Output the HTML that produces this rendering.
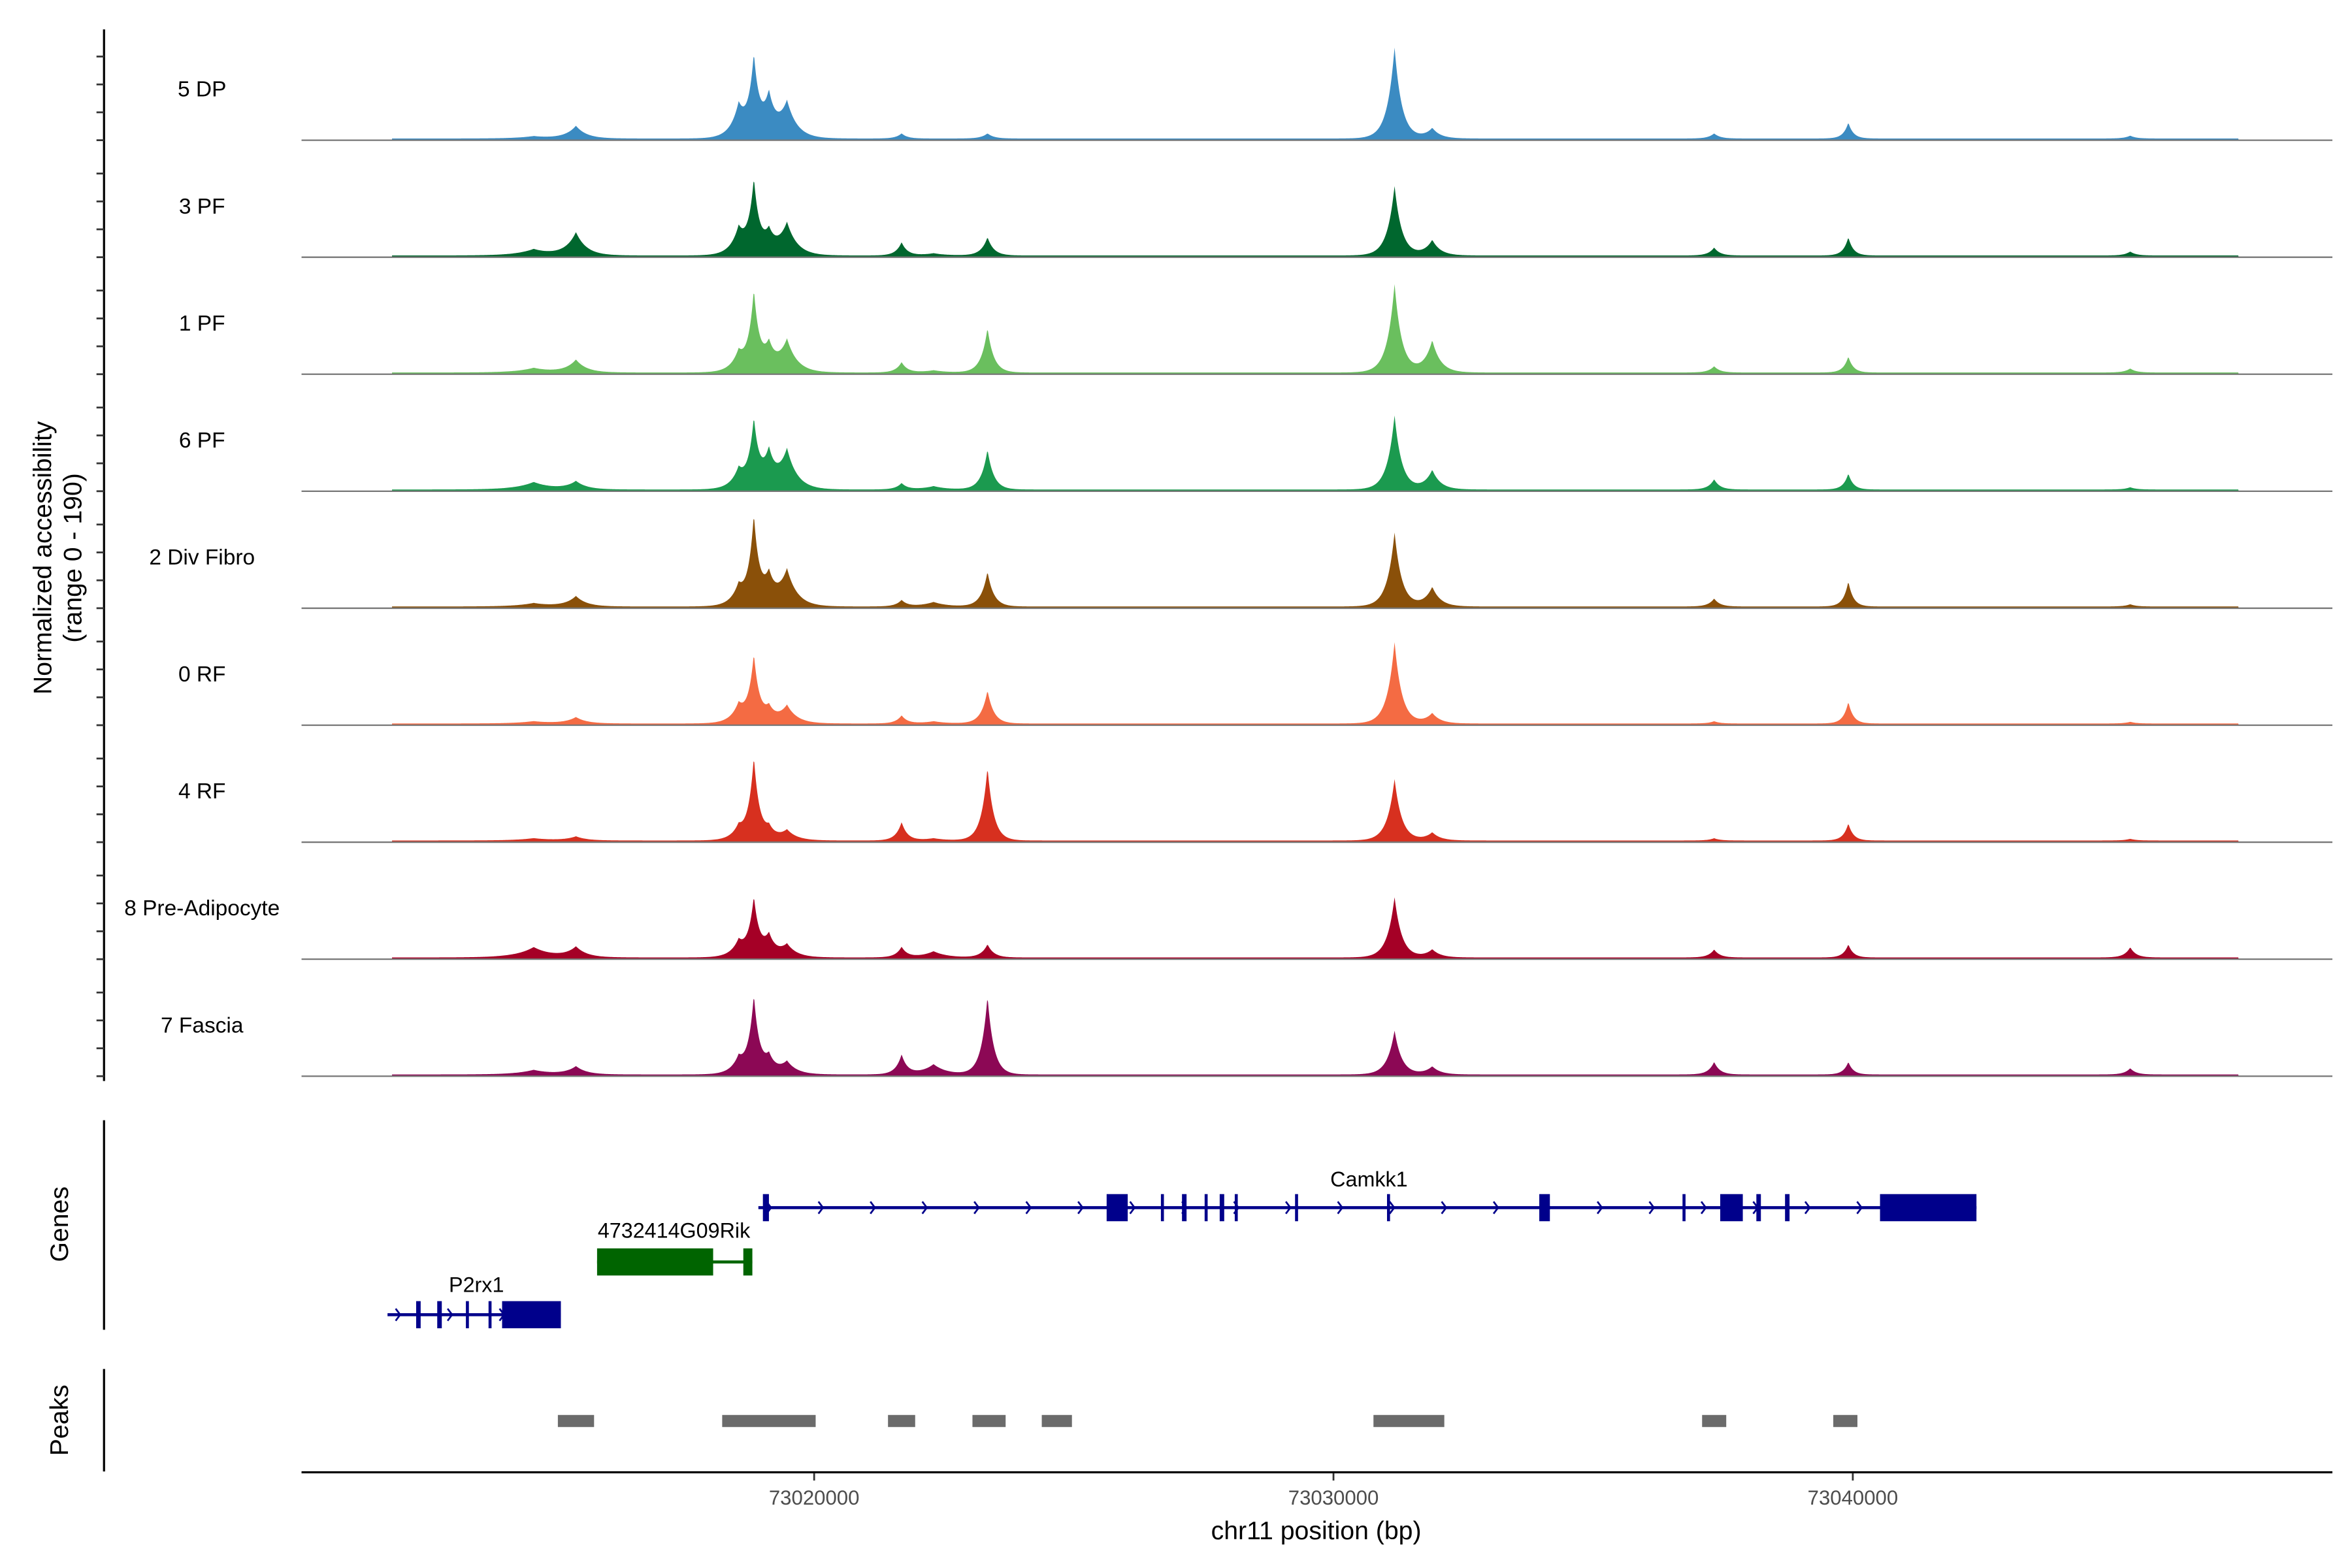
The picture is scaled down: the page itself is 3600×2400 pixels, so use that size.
<!DOCTYPE html>
<html><head><meta charset="utf-8"><style>
html,body{margin:0;padding:0;background:#fff;}
svg{display:block;font-family:"Liberation Sans",Arial,sans-serif;}
</style></head><body>
<svg id="chart" width="3600" height="2400" viewBox="0 0 1560 1040" xmlns="http://www.w3.org/2000/svg">
<rect x="0" y="0" width="1560" height="1040" fill="#fff"/>
<g id="tracks"></g>
<g id="genes"></g>
<g id="peaks"></g>
<g id="axes"></g>
<text transform="translate(34,370) rotate(-90)" text-anchor="middle" font-size="17">Normalized accessibility</text>
<text transform="translate(54,370) rotate(-90)" text-anchor="middle" font-size="17">(range 0 - 190)</text>
<text transform="translate(45,812) rotate(-90)" text-anchor="middle" font-size="17">Genes</text>
<text transform="translate(45,942) rotate(-90)" text-anchor="middle" font-size="17">Peaks</text>
<text x="873" y="1021" text-anchor="middle" font-size="17">chr11 position (bp)</text>
</svg>
<script>
const trackNames = ["5 DP","3 PF","1 PF","6 PF","2 Div Fibro","0 RF","4 RF","8 Pre-Adipocyte","7 Fascia"];
const trackColors = ["#3b8bc2","#00672e","#6abf5e","#1b9a4f","#8a5009","#f46b43","#d7301f","#a50026","#8c0855"];
const peakCenters = [73015413,73018548,73018839,73019129,73019477,73021684,73023338,73031176,73031902,73037330,73039914,73045342,73014600,73022300];
const peakWidths = [200,170,110,140,200,110,120,140,160,110,95,110,350,250];
const h5DP = [22,55,130,65,62,9,9,160,18,9,28,5,4,0];
const h3PF = [40,45,122,33,56,23,32,122,27,14,32,7,11,4];
const h1PF = [22,33,133,40,56,18,78,155,56,11,28,7,8,4];
const h6PF = [14,33,112,56,68,11,70,130,34,18,28,4,13,6];
const h2Div = [18,33,148,45,63,11,61,130,34,14,44,4,6,8];
const h0RF = [11,31,113,22,31,14,58,143,18,4,38,3,4,4];
const h4RF = [7,22,140,18,18,32,128,108,14,4,30,3,4,4];
const h8Pre = [18,27,98,34,22,18,23,106,14,14,23,18,18,11];
const h7Fas = [14,27,131,27,22,34,137,77,14,22,22,11,8,18];
const trackHeights = [h5DP,h3PF,h1PF,h6PF,h2Div,h0RF,h4RF,h8Pre,h7Fas];
const signalRange = [73011872,73047431];
const noiseFloor = 3;
const xTicks = [73020000,73030000,73040000];
const camkk1 = {name:"Camkk1", start:73018926, end:73042381, exons:[[73019013,73019129],[73025632,73026038],[73026677,73026735],[73027083,73027171],[73027519,73027577],[73027809,73027896],[73028099,73028157],[73029260,73029318],[73031031,73031089],[73033963,73034167],[73036721,73036779],[73037447,73037882],[73038143,73038230],[73038695,73038782],[73040524,73042381]]};
const rik = {name:"4732414G09Rik", start:73015820, end:73018810, exons:[[73015820,73018055],[73018636,73018810]]};
const p2rx1 = {name:"P2rx1", start:73011785, end:73015123, exons:[[73012336,73012423],[73012742,73012830],[73013294,73013352],[73013730,73013788],[73013991,73015123]]};
const peakStarts = [73015065,73018229,73021422,73023048,73024383,73030770,73037098,73039624];
const peakEnds = [73015762,73020029,73021945,73023687,73024964,73032134,73037563,73040089];

const NS="http://www.w3.org/2000/svg";
const X = bp => 540 + (bp-73020000)*0.034445;
const trackTop = 20, trackStep = 77.6, yMax = 190, trackPx = 72;
const baseY = i => trackTop + 73 + i*trackStep;
const Y = (i,v) => baseY(i) - Math.min(v,yMax)/yMax*trackPx;
function mk(tag, attrs, parent){const e=document.createElementNS(NS,tag);for(const k in attrs)e.setAttribute(k,attrs[k]);parent.appendChild(e);return e;}

const gT=document.getElementById('tracks');
trackHeights.forEach((hs,i)=>{
  let d=`M${X(signalRange[0]).toFixed(1)},${baseY(i)}`;
  for(let bp=signalRange[0]; bp<=signalRange[1]; bp+=15){
    let v=noiseFloor;
    for(let k=0;k<peakCenters.length;k++){v+=hs[k]*Math.exp(-Math.abs(bp-peakCenters[k])/peakWidths[k]);}
    d+=`L${X(bp).toFixed(2)},${Y(i,v).toFixed(2)}`;
  }
  d+=`L${X(signalRange[1]).toFixed(1)},${baseY(i)}Z`;
  const p=mk('path',{d:d,fill:trackColors[i]},gT);
  
  
  const l=mk('line',{x1:200,x2:1547,y1:baseY(i),y2:baseY(i),stroke:'#777','stroke-width':1},gT);
  
  
  const t=mk('text',{x:134,y:baseY(i)-29,'text-anchor':'middle','font-size':14.5},gT);
  t.textContent=trackNames[i];
  
  
});

const gG=document.getElementById('genes');
function drawGene(g,y,color,labelX,labelY,arrows){
  mk('line',{x1:X(g.start),x2:X(g.end),y1:y,y2:y,stroke:color,'stroke-width':2},gG);
  if(arrows){for(let bp=g.start+200; bp<g.end; bp+=1000){const x=X(bp);mk('path',{d:`M${x-1.5},${y-4}L${x+1.5},${y}L${x-1.5},${y+4}`,fill:'none',stroke:color,'stroke-width':1.2},gG);}}
  g.exons.forEach(e=>{const w=Math.max(X(e[1])-X(e[0]),1.2);const r=mk('rect',{x:X(e[0]),y:y-9,width:w,height:18,fill:color},gG);
    
    });
  const t=mk('text',{x:labelX,y:labelY,'text-anchor':'middle','font-size':14},gG);
  t.textContent=g.name;
  
  
}
drawGene(camkk1,801,'#00008b',908,787,true);
drawGene(rik,837,'#006400',447,821,false);
drawGene(p2rx1,872,'#00008b',316,857,true);

const gP=document.getElementById('peaks');
peakStarts.forEach((s,i)=>{const r=mk('rect',{x:X(s),y:938.5,width:X(peakEnds[i])-X(s),height:8,fill:'#6b6b6b'},gP);
  
  });

const gA=document.getElementById('axes');
mk('line',{x1:69,x2:69,y1:19.5,y2:717,stroke:'#000','stroke-width':1.4},gA);
for(let i=0;i<trackHeights.length;i++){for(let k=0;k<4;k++){const y=baseY(i)-k*18.5;mk('line',{x1:64,x2:69,y1:y,y2:y,stroke:'#333','stroke-width':1.2},gA);}}
mk('line',{x1:69,x2:69,y1:743,y2:882,stroke:'#000','stroke-width':1.4},gA);
mk('line',{x1:69,x2:69,y1:908,y2:976,stroke:'#000','stroke-width':1.4},gA);
mk('line',{x1:200,x2:1547,y1:976.5,y2:976.5,stroke:'#000','stroke-width':1.4},gA);
xTicks.forEach(v=>{const x=X(v);mk('line',{x1:x,x2:x,y1:977,y2:982,stroke:'#333','stroke-width':1.2},gA);
  const t=mk('text',{x:x,y:998,'text-anchor':'middle','font-size':13.5,fill:'#4d4d4d'},gA);t.textContent=String(v);
  
  });
</script>
</body></html>
